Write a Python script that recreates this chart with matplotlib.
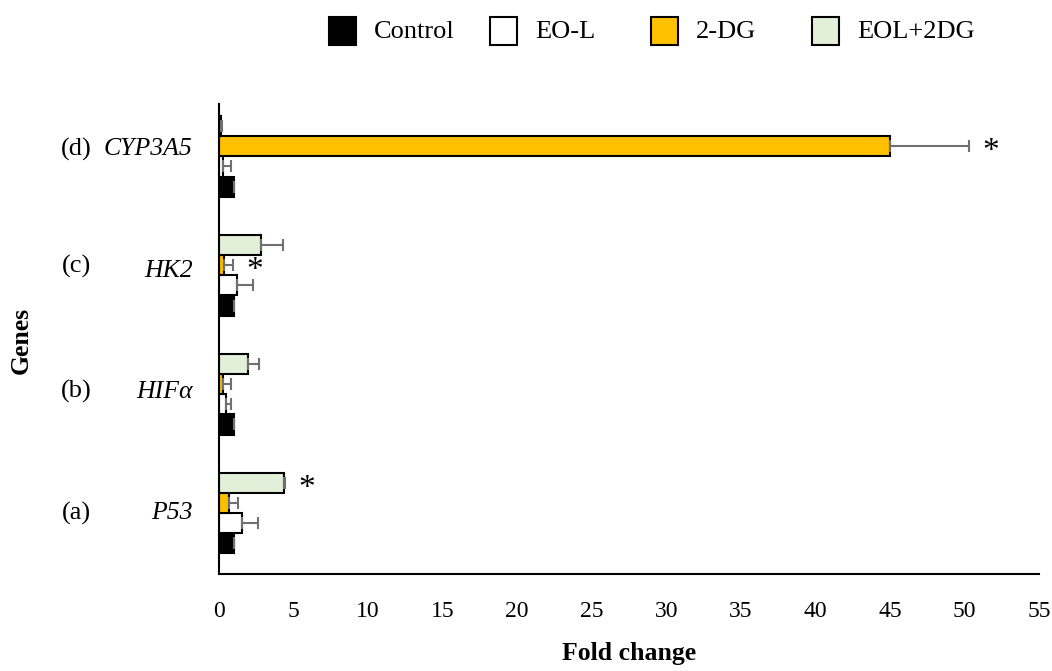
import numpy as np
import matplotlib
matplotlib.use("Agg")
import matplotlib.pyplot as plt
from matplotlib.patches import Rectangle

plt.rcParams['font.family'] = ['Liberation Serif', 'DejaVu Serif']

genes = ['P53', 'HIFα', 'HK2', 'CYP3A5']
letters = ['(a)', '(b)', '(c)', '(d)']
groups = ['Control', 'EO-L', '2-DG', 'EOL+2DG']
colors = ['#000000', '#ffffff', '#ffc000', '#e2f0d9']

# values per gene (P53, HIFα, HK2, CYP3A5)
control = [1.0, 1.0, 1.0, 1.0]
control_err = [0.05, 0.05, 0.05, 0.05]
eol = [1.55, 0.45, 1.2, 0.3]
eol_err = [1.05, 0.35, 1.1, 0.5]
dg = [0.7, 0.3, 0.35, 45.0]
dg_err = [0.6, 0.5, 0.6, 5.3]
combo = [4.4, 1.95, 2.8, 0.15]
combo_err = [0.05, 0.75, 1.5, 0.05]
stars = [(0, 3), (2, 2), (3, 2)]  # (gene index, group index)

means = [control, eol, dg, combo]
errs = [control_err, eol_err, dg_err, combo_err]

fig = plt.figure(figsize=(10.52, 6.71), dpi=100)
ax = fig.add_axes([0.208, 0.145, 0.78, 0.70])

y = np.arange(len(genes))
h = 0.17
offs = [-1.5, -0.5, 0.5, 1.5]
for i in range(4):
    e = np.array(errs[i])
    ax.barh(y + offs[i] * h, means[i], height=h, color=colors[i],
            edgecolor='black', linewidth=1.5,
            xerr=[np.zeros_like(e), e],
            error_kw=dict(ecolor='#707070', capsize=4.5, elinewidth=1.5, capthick=1.5))

# significance stars (glyph sits high, so nudge down)
for g, k in stars:
    xe = means[k][g] + errs[k][g]
    ax.text(xe + 0.9, y[g] + offs[k] * h - 0.05, '*', fontsize=24, va='center', ha='left')

ax.set_xlim(0, 55)
ax.set_ylim(-0.51, 3.44)
ax.set_xticks(np.arange(0, 56, 5))
ax.tick_params(axis='x', length=0, labelsize=17, pad=20)
ax.set_yticks([])
for s in ['top', 'right']:
    ax.spines[s].set_visible(False)
ax.spines['left'].set_linewidth(1.5)
ax.spines['bottom'].set_linewidth(1.5)

name_dy = [0.0, 0.02, 0.035, 0.06]
let_dy = [0.0, 0.02, 0.07, 0.06]
for i, gname in enumerate(genes):
    ax.text(-0.032, y[i] + name_dy[i], gname, transform=ax.get_yaxis_transform(),
            ha='right', va='center', fontsize=18.5, style='italic')
    ax.text(-0.174, y[i] + let_dy[i], letters[i], transform=ax.get_yaxis_transform(),
            ha='center', va='center', fontsize=19)

fig.text(0.02, 0.493, 'Genes', rotation=90, fontsize=18.5, fontweight='bold', va='center', ha='center')
ax.set_xlabel('Fold change', fontsize=18.5, fontweight='bold', labelpad=14)

# legend drawn by hand: equally spaced entries across the top
lx0 = 329 / 1052
step = 161 / 1052
for i in range(4):
    x0 = lx0 + i * step
    fig.add_artist(Rectangle((x0, 1 - 45 / 671), 27 / 1052, 28 / 671, transform=fig.transFigure,
                             facecolor=colors[i], edgecolor='black', linewidth=1.5))
    fig.text(x0 + 45 / 1052, 1 - 32 / 671, groups[i], fontsize=19, va='center', ha='left')

fig.savefig('out.png', dpi=100)
